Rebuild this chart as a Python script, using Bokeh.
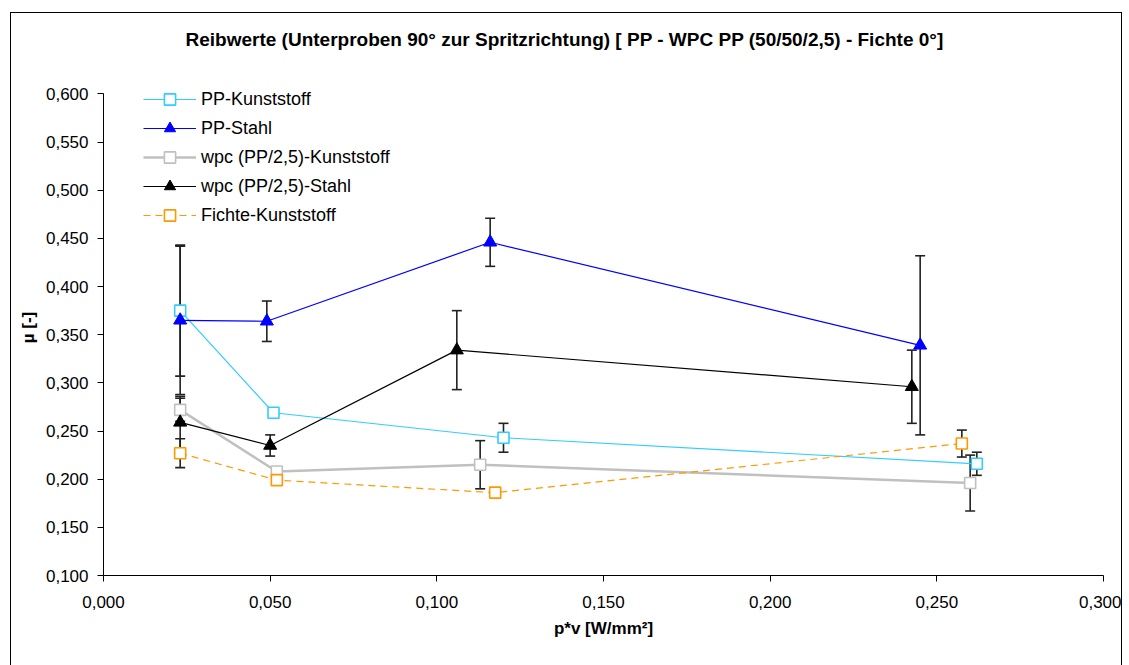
from bokeh.plotting import figure
from bokeh.models import (ColumnDataSource, Whisker, TeeHead, Legend, LegendItem,
                          FixedTicker, CustomJSTickFormatter, Range1d, Title)
from bokeh.embed import file_html
from bokeh.resources import INLINE

# ---------------- data ----------------
title_text = "Reibwerte (Unterproben 90° zur Spritzrichtung) [ PP - WPC PP (50/50/2,5) - Fichte 0°]"
x_label = "p*v [W/mm²]"
y_label = "µ [-]"
x_ticks = [0.0, 0.05, 0.10, 0.15, 0.20, 0.25, 0.30]
y_ticks = [0.10, 0.15, 0.20, 0.25, 0.30, 0.35, 0.40, 0.45, 0.50, 0.55, 0.60]

names = ["PP-Kunststoff", "PP-Stahl", "wpc (PP/2,5)-Kunststoff", "wpc (PP/2,5)-Stahl", "Fichte-Kunststoff"]

x_pp_k = [0.023, 0.051, 0.120, 0.262]
y_pp_k = [0.375, 0.269, 0.243, 0.216]
e_pp_k = [0.068, 0.003, 0.015, 0.012]

x_pp_s = [0.023, 0.049, 0.116, 0.245]
y_pp_s = [0.365, 0.364, 0.446, 0.339]
e_pp_s = [0.077, 0.021, 0.025, 0.093]

x_wpc_k = [0.023, 0.052, 0.113, 0.260]
y_wpc_k = [0.272, 0.208, 0.215, 0.196]
e_wpc_k = [0.012, 0.003, 0.025, 0.029]

x_wpc_s = [0.023, 0.050, 0.106, 0.2425]
y_wpc_s = [0.259, 0.235, 0.334, 0.296]
e_wpc_s = [0.027, 0.011, 0.041, 0.038]

x_fi_k = [0.023, 0.052, 0.1175, 0.2575]
y_fi_k = [0.227, 0.199, 0.186, 0.237]
e_fi_k = [0.015, 0.005, 0.002, 0.014]

series_x = [x_pp_k, x_pp_s, x_wpc_k, x_wpc_s, x_fi_k]
series_y = [y_pp_k, y_pp_s, y_wpc_k, y_wpc_s, y_fi_k]
series_e = [e_pp_k, e_pp_s, e_wpc_k, e_wpc_s, e_fi_k]

# ---------------- styles ----------------
colors = ["#33CCFF", "#0000FF", "#C0C0C0", "#000000", "#FF9900"]
markers = ["square", "triangle", "square", "triangle", "square"]
line_widths = [1.2, 1.2, 2.5, 1.2, 1.2]
dashes = ["solid", "solid", "solid", "solid", "7 5"]
FONT = "Liberation Sans"

p = figure(width=1112, height=653, x_range=Range1d(0, 0.3), y_range=Range1d(0.1, 0.615),
           output_backend="svg", toolbar_location=None, title=None,
           min_border_left=92, min_border_right=20, min_border_top=66, min_border_bottom=91)
p.styles = {"border": "1px solid #000000", "border-bottom": "none",
            "margin-left": "10px", "margin-top": "12px"}
p.outline_line_color = None
p.background_fill_color = "white"
p.border_fill_color = "white"
p.xgrid.visible = False
p.ygrid.visible = False

# the trailing empty line lifts the title away from the plot frame
title = Title(text=title_text + "\n", align="left", offset=82, vertical_align="middle",
              text_font=FONT, text_font_size="19px", text_font_style="bold",
              text_line_height=1.1, text_color="#000000")
p.add_layout(title, "above")

fmt = CustomJSTickFormatter(code="return tick.toFixed(3).replace('.', ',');")
for ax, ticks, lab in ((p.xaxis[0], x_ticks, x_label), (p.yaxis[0], y_ticks, y_label)):
    ax.ticker = FixedTicker(ticks=ticks)
    ax.formatter = fmt
    ax.axis_line_color = "#000000"
    ax.major_tick_line_color = "#000000"
    ax.major_tick_out = 6
    ax.major_tick_in = 0
    ax.minor_tick_line_color = None
    ax.major_label_text_font = FONT
    ax.major_label_text_font_size = "17px"
    ax.major_label_text_color = "#000000"
    ax.axis_label = lab
    ax.axis_label_text_font = FONT
    ax.axis_label_text_font_size = "17px"
    ax.axis_label_text_font_style = "bold"
    ax.axis_label_text_color = "#000000"
p.yaxis[0].bounds = (0.1, 0.6)
p.xaxis[0].major_label_standoff = 14
p.xaxis[0].axis_label_standoff = 8
p.yaxis[0].major_label_standoff = 9
p.yaxis[0].axis_label_standoff = 5

items = []
for name, xs, ys, es, c, m, lw, d in zip(names, series_x, series_y, series_e,
                                          colors, markers, line_widths, dashes):
    src = ColumnDataSource(dict(x=xs, y=ys,
                                upper=[a + b for a, b in zip(ys, es)],
                                lower=[a - b for a, b in zip(ys, es)]))
    w = Whisker(base="x", upper="upper", lower="lower", source=src,
                line_color="#222222", line_width=1.6,
                upper_head=TeeHead(size=10, line_color="#222222", line_width=1.6),
                lower_head=TeeHead(size=10, line_color="#222222", line_width=1.6))
    p.add_layout(w)
    lr = p.line("x", "y", source=src, line_color=c, line_width=lw, line_dash=d)
    if m == "square":
        sr = p.scatter("x", "y", source=src, marker="square", size=11,
                       fill_color="white", line_color=c, line_width=1.6)
    else:
        sr = p.scatter("x", "y", source=src, marker="triangle", size=13,
                       fill_color=c, line_color=c, line_width=1)
    items.append(LegendItem(label=name, renderers=[lr, sr]))

legend = Legend(items=items, location=(40, 346), orientation="vertical",
                glyph_width=53, glyph_height=28, label_height=28, spacing=1,
                label_standoff=5, padding=0, margin=0,
                border_line_color=None, background_fill_alpha=0,
                label_text_font=FONT, label_text_font_size="18px",
                label_text_color="#000000")
p.add_layout(legend, "center")

open("out.html", "w").write(file_html(p, INLINE))
